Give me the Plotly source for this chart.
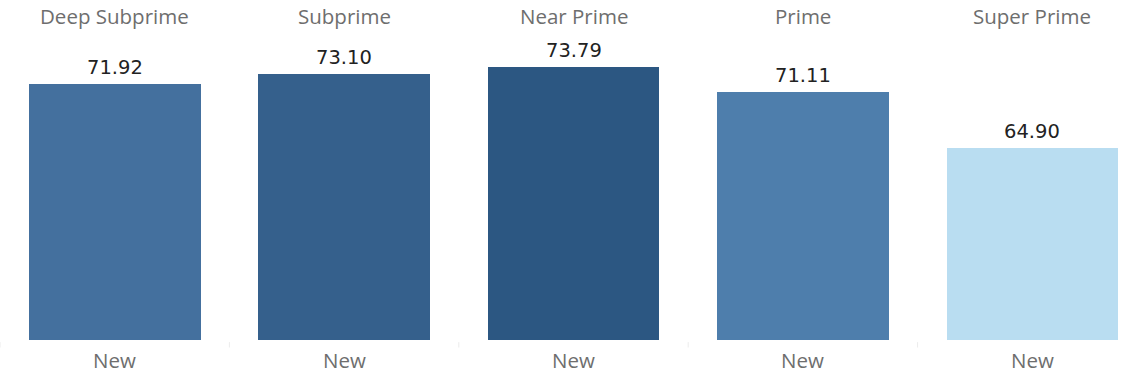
import plotly.graph_objects as go

# Average score by credit tier, new vehicles
tiers = ["Deep Subprime", "Subprime", "Near Prime", "Prime", "Super Prime"]
segment = ["New", "New", "New", "New", "New"]
values = [71.92, 73.10, 73.79, 71.11, 64.90]
colors = ["#44709e", "#35608c", "#2c5782", "#4e7eac", "#b9ddf1"]

xs = list(range(len(tiers)))

fig = go.Figure()
fig.add_trace(go.Bar(
    x=xs, y=values, width=0.748,
    marker=dict(color=colors, line=dict(width=0)),
    hoverinfo="skip",
))

label_font = dict(family="Open Sans", size=20.5, color="#6e6e6e")

for i, v in enumerate(values):
    # value label above each bar
    fig.add_annotation(
        x=i, y=v, text=f"{v:.2f}", showarrow=False,
        xref="x", yref="y", yanchor="bottom", yshift=3,
        font=dict(family="DejaVu Sans", size=19.5, color="#222222"),
    )
    # column header
    fig.add_annotation(
        x=i, y=1, text=tiers[i], showarrow=False,
        xref="x", yref="paper", yanchor="bottom", yshift=8,
        font=label_font,
    )
    # segment label under each bar
    fig.add_annotation(
        x=i, y=0, text=segment[i], showarrow=False,
        xref="x", yref="paper", yanchor="top", yshift=-4,
        font=dict(family="Open Sans", size=20.5, color="#6e6e6e"),
    )
    # faint pane divider tick
    fig.add_shape(
        type="line", xref="x", yref="paper",
        x0=i - 0.5, x1=i - 0.5, y0=-0.007, y1=-0.025,
        line=dict(color="#ececec", width=1),
    )

fig.update_layout(
    width=1122, height=375,
    margin=dict(l=0, r=0, t=40, b=35),
    paper_bgcolor="white", plot_bgcolor="white",
    showlegend=False,
    bargap=0,
    xaxis=dict(
        range=[-0.5, -0.5 + 1122 / 229.4],
        showticklabels=False,
        showgrid=False, zeroline=False, showline=False, ticks="",
        fixedrange=True,
    ),
    yaxis=dict(
        range=[43.81, 43.81 + 300 / 9.09],
        visible=False, showgrid=False, zeroline=False,
        fixedrange=True,
    ),
)

fig.write_html("out.html")
